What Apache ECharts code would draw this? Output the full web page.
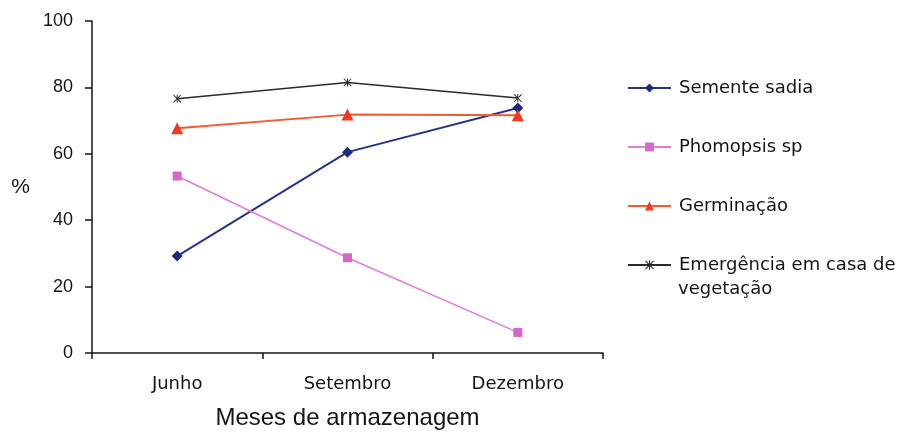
<!DOCTYPE html>
<html><head><meta charset="utf-8">
<script src="https://cdn.jsdelivr.net/npm/echarts@6/dist/echarts.min.js"></script>
<style>html,body{margin:0;padding:0;background:#fff}#c{width:908px;height:435px}</style>
</head><body><div id="c"></div>
<script>
const categories = ['Junho', 'Setembro', 'Dezembro'];
const sementeSadia = [29.2, 60.5, 73.8];
const phomopsis = [53.3, 28.7, 6.2];
const germinacao = [67.7, 71.8, 71.6];
const emergencia = [76.6, 81.5, 76.8];
const seriesNames = ['Semente sadia', 'Phomopsis sp', 'Germinação', 'Emergência em casa de vegetação'];
const yTicks = { min: 0, max: 100, interval: 20 };

const chart = echarts.init(document.getElementById('c'));
const axisColor = '#141414';
const textColor = '#141414';
const starPath = 'path://M4.4,0h1.2v10h-1.2z M0,0.8L0.8,0L10,9.2L9.2,10z M10,0.8L9.2,0L0,9.2L0.8,10z';

chart.setOption({
  animation: false,
  backgroundColor: '#fff',
  grid: { left: 92, right: 305, top: 21, bottom: 78 },
  legend: {
    orient: 'vertical',
    left: 622,
    top: 73,
    itemWidth: 43,
    itemHeight: 11,
    itemGap: 39,
    data: seriesNames,
    formatter: function (n) { return n === seriesNames[3] ? 'Emergência em casa de' : n; },
    textStyle: { fontFamily: 'DejaVu Sans', fontSize: 18, color: textColor, lineHeight: 20, padding: [0, 0, 0, 3] }
  },
  graphic: [{
    type: 'text', left: 678, top: 280,
    style: { text: 'vegetação', font: '18px "DejaVu Sans"', fill: textColor }
  }],
  xAxis: {
    type: 'category',
    data: categories,
    boundaryGap: true,
    name: 'Meses de armazenagem',
    nameLocation: 'middle',
    nameGap: 53,
    nameTextStyle: { fontFamily: 'Liberation Sans', fontSize: 24, color: textColor },
    axisLine: { lineStyle: { color: axisColor, width: 1.5 } },
    axisTick: { show: true, length: 6, lineStyle: { color: axisColor, width: 1.5 } },
    axisLabel: { fontFamily: 'DejaVu Sans', fontSize: 18, color: textColor, margin: 22 },
    splitLine: { show: false }
  },
  yAxis: {
    type: 'value',
    min: yTicks.min, max: yTicks.max, interval: yTicks.interval,
    name: '%',
    nameLocation: 'middle',
    nameRotate: 0,
    nameGap: 62,
    nameTextStyle: { fontFamily: 'Liberation Sans', fontSize: 21, color: textColor },
    axisLine: { show: true, lineStyle: { color: axisColor, width: 1.5 } },
    axisTick: { show: true, length: 7, lineStyle: { color: axisColor, width: 1.5 } },
    axisLabel: { fontFamily: 'Liberation Sans', fontSize: 18, color: textColor, margin: 19 },
    splitLine: { show: false }
  },
  series: [
    { name: seriesNames[0], type: 'line', data: sementeSadia, symbol: 'diamond', symbolSize: 11,
      itemStyle: { color: '#1e2a7e' }, lineStyle: { color: '#26348a', width: 2 } },
    { name: seriesNames[1], type: 'line', data: phomopsis, symbol: 'rect', symbolSize: 9,
      itemStyle: { color: '#d865c8' }, lineStyle: { color: '#e27ad8', width: 1.5 } },
    { name: seriesNames[2], type: 'line', data: germinacao, symbol: 'triangle', symbolSize: 12,
      itemStyle: { color: '#f03a22' }, lineStyle: { color: '#f25a30', width: 2 } },
    { name: seriesNames[3], type: 'line', data: emergencia, symbol: starPath, symbolSize: 8,
      itemStyle: { color: '#222' }, lineStyle: { color: '#2a2a2a', width: 1.5 } }
  ]
});
</script></body></html>
